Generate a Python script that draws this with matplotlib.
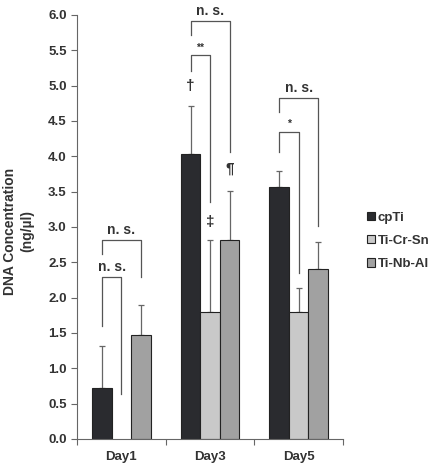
import matplotlib.pyplot as plt
import numpy as np

plt.rcParams['font.family'] = ['Liberation Sans', 'DejaVu Sans']
plt.rcParams['font.weight'] = 'bold'

days = ['Day1', 'Day3', 'Day5']
groups = ['cpTi', 'Ti-Cr-Sn', 'Ti-Nb-Al']
cpti = [0.72, 4.03, 3.56]
ticrsn = [np.nan, 1.79, 1.79]
tinbal = [1.47, 2.81, 2.41]
cpti_err = [0.59, 0.68, 0.23]
ticrsn_err = [np.nan, 1.03, 0.35]
tinbal_err = [0.43, 0.70, 0.38]
yticks = [0.0, 0.5, 1.0, 1.5, 2.0, 2.5, 3.0, 3.5, 4.0, 4.5, 5.0, 5.5, 6.0]

# brackets: (day, bar from, bar to, left leg bottom, top, right leg bottom, label)
brackets = [
    (0, 0, 1, 1.60, 2.29, 0.64, 'n. s.'),
    (0, 0, 2, 2.62, 2.82, 2.29, 'n. s.'),
    (1, 0, 1, 5.20, 5.43, 3.35, '**'),
    (1, 0, 2, 5.71, 5.91, 4.06, 'n. s.'),
    (2, 0, 1, 4.06, 4.35, 2.35, '*'),
    (2, 0, 2, 4.63, 4.83, 3.02, 'n. s.'),
]
# markers above bars on Day3: (bar, y, symbol)
marks = [(0, 4.99, '\u2020'), (1, 3.07, '\u2021'), (2, 3.83, '\u00b6')]

colors = ['#2a2b2f', '#c9c9c9', '#a1a1a1']
width = 0.22
offsets = [-0.22, 0.0, 0.22]
x = np.arange(len(days))

fig = plt.figure(figsize=(4.38, 4.66), dpi=100)
ax = fig.add_axes([0.176, 0.058, 0.607, 0.910])

series = [cpti, ticrsn, tinbal]
errs = [cpti_err, ticrsn_err, tinbal_err]
for i in range(3):
    vals = np.array(series[i], dtype=float)
    ax.bar(x + offsets[i], vals, width, color=colors[i], edgecolor='#222222',
           linewidth=0.8, label=groups[i], zorder=2)
    e = np.array(errs[i], dtype=float)
    ax.errorbar(x + offsets[i], vals, yerr=[np.zeros_like(e), e], fmt='none',
                ecolor='#666666', elinewidth=0.9, capsize=2.5, capthick=0.9, zorder=1)

for d, a, b, yl, yt, yr, lab in brackets:
    xa = x[d] + offsets[a]
    xb = x[d] + offsets[b]
    ax.plot([xa, xa, xb, xb], [yl, yt, yt, yr], color='#555555', lw=0.9,
            clip_on=False)
    fs = 10 if lab == 'n. s.' else 7.5
    ax.text((xa + xb) / 2, yt + 0.04, lab, ha='center', va='bottom',
            fontsize=fs, fontweight='bold', color='#333333', clip_on=False)

for b, y, s in marks:
    ax.text(x[1] + offsets[b], y, s, ha='center', va='center', fontsize=11,
            fontweight='bold', color='#333333')

ax.set_xlim(-0.5, 2.5)
ax.set_ylim(0, 6.0)
ax.set_yticks(yticks)
ax.set_yticklabels(['%.1f' % v for v in yticks], fontsize=9.5, fontweight='bold',
                   color='#333333')
ax.set_xticks([-0.5, 0.5, 1.5, 2.5])
ax.set_xticklabels([])
ax.set_xticks(x, minor=True)
ax.set_xticklabels(days, minor=True, fontsize=9.5, fontweight='bold', color='#333333')
ax.tick_params(axis='x', which='minor', length=0, pad=9)
ax.tick_params(axis='both', which='major', length=4, width=0.8, color='#666666',
               direction='out')
for sp in ['top', 'right']:
    ax.spines[sp].set_visible(False)
for sp in ['left', 'bottom']:
    ax.spines[sp].set_color('#666666')
    ax.spines[sp].set_linewidth(0.8)

fig.text(0.042, 0.504, 'DNA Concentration\n(ng/\u00b5l)', rotation=90, ha='center',
         va='center', fontsize=10, fontweight='bold', color='#333333',
         multialignment='center', linespacing=1.3)

leg = fig.legend(loc='center left', bbox_to_anchor=(0.81, 0.483), frameon=False,
                 handlelength=0.6, handleheight=0.6, handletextpad=0.25,
                 labelspacing=0.85, prop={'size': 9.5, 'weight': 'bold'})
for t in leg.get_texts():
    t.set_color('#333333')

fig.savefig('out.png', dpi=100)
